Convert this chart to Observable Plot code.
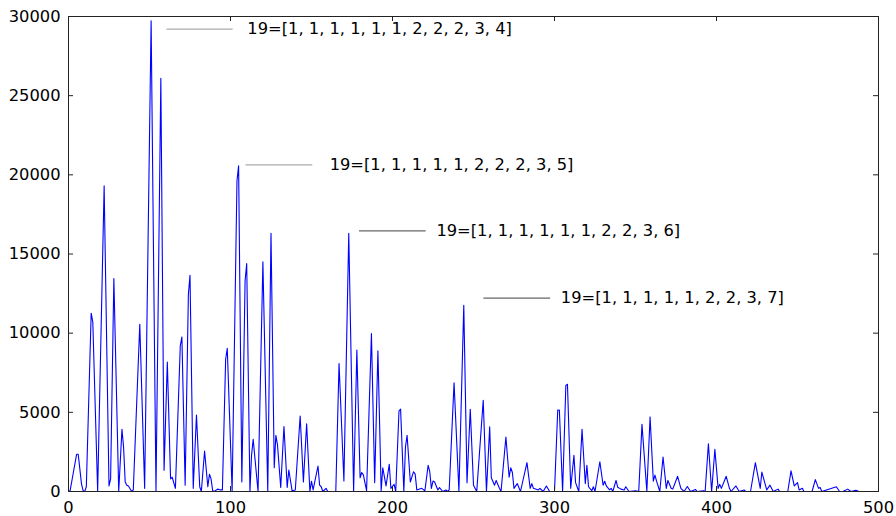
<!DOCTYPE html>
<html><head><meta charset="utf-8">
<script src="https://cdn.jsdelivr.net/npm/d3@7"></script>
<script src="https://cdn.jsdelivr.net/npm/@observablehq/plot@0.6"></script>
<style>html,body{margin:0;padding:0;background:#fff;} #chart svg{display:block}</style>
</head><body><div id="chart"></div>
<script>
// vertices of the curve (x, value)
const xs = [0,1,3,5,6,8,9,10,11,14,15,18,22,25,26,28,31,33,34,35,36,37,39,40,44,47,51,54,57,59,61,63,64,66,69,70,72,74,75,77,79,81,82,84,86,87,88,89,90,92,94,95,97,98,101,104,105,107,109,110,112,113,114,117,120,123,125,127,128,129,131,133,135,136,138,140,143,145,147,149,150,151,154,155,156,157,159,160,165,167,170,173,176,178,180,181,182,184,187,189,191,193,194,196,198,199,201,202,204,205,207,208,209,211,213,214,215,218,220,222,223,224,225,226,228,229,231,233,234,235,238,241,244,246,248,250,252,256,258,260,261,263,264,266,267,270,272,273,274,275,277,279,283,285,286,287,290,291,293,295,297,300,302,303,305,307,308,310,312,313,315,317,319,320,321,323,324,325,328,330,331,332,334,335,336,338,339,341,343,344,346,350,352,354,357,359,361,362,363,365,367,369,370,372,373,376,378,380,382,384,387,388,392,393,395,397,399,401,402,403,406,408,409,412,414,417,418,421,424,427,428,431,433,435,438,439,444,446,448,450,451,453,454,459,461,463,464,465,474,476,478,481,483,486,488,490];
const ys = [0,50,1200,2350,2350,500,50,0,300,11260,10700,0,19300,350,800,13450,0,3930,2800,600,400,350,0,100,10560,200,29730,0,26100,1340,8180,800,900,200,9200,9760,400,12450,13660,200,4830,300,0,2560,300,1090,800,50,0,150,100,100,8350,9050,0,19620,20570,600,13300,14400,0,2300,3300,0,14500,0,16310,1500,3550,2950,250,4100,250,1360,50,100,4770,600,4280,0,650,100,1610,400,300,0,200,0,0,8080,660,16300,0,8940,870,1200,1050,50,9970,560,8880,50,1500,350,1720,200,450,0,5090,5200,0,2800,3550,600,1250,1100,100,200,50,1650,1250,200,660,600,100,250,0,100,0,100,6870,0,11760,560,5190,400,0,5760,0,4080,870,400,700,200,0,3440,900,1500,1200,200,500,0,1820,200,500,200,100,200,0,350,0,0,5150,5150,0,6700,6770,200,2290,560,0,3930,500,1650,300,50,300,0,1880,400,650,350,100,200,0,700,270,150,100,300,0,50,0,4240,0,4710,650,1040,650,0,2180,200,700,200,150,960,200,0,320,0,130,0,50,0,3020,0,2660,200,450,200,960,200,0,350,0,100,0,0,1820,200,1230,100,400,0,150,0,0,1300,350,560,100,200,0,0,750,200,250,0,300,0,0,150,0,70,0,0];

const xTicks = [0, 100, 200, 300, 400, 500];
const yTicks = [0, 5000, 10000, 15000, 20000, 25000, 30000];

// annotations
const annLineX1 = [60.5, 109.3, 179.3, 256.1];
const annLineX2 = [101.3, 150.5, 220.5, 297.3];
const annY = [29200, 20630, 16460, 12210];
const annTextX = [110.4, 161.2, 227.1, 303.9];
const annLabels = [
  "19=[1, 1, 1, 1, 1, 1, 2, 2, 2, 3, 4]",
  "19=[1, 1, 1, 1, 1, 2, 2, 2, 3, 5]",
  "19=[1, 1, 1, 1, 1, 1, 2, 2, 3, 6]",
  "19=[1, 1, 1, 1, 1, 2, 2, 3, 7]"
];

const W = 896, H = 516, mt = 16, mb = 25, ml = 68, mr = 18;
const innerH = H - mt - mb, innerW = W - ml - mr;
const series = xs.map((x, i) => ({x, y: ys[i]}));
const ann = annY.map((y, i) => ({x1: annLineX1[i], x2: annLineX2[i], y, tx: annTextX[i], label: annLabels[i], i}));

const chart = Plot.plot({
  width: W, height: H,
  marginTop: mt, marginBottom: mb, marginLeft: ml, marginRight: mr,
  style: {fontFamily: "'DejaVu Sans', sans-serif", fontSize: "16.3px", color: "#000", background: "#fff"},
  x: {domain: [0, 500]},
  y: {domain: [0, 30000]},
  marks: [
    Plot.line(series, {x: "x", y: "y", stroke: "#0000ff", strokeWidth: 1.1}),
    Plot.link(ann.filter(d => d.i < 2), {x1: "x1", x2: "x2", y1: "y", y2: "y", stroke: "#aaaaaa", strokeWidth: 1.2}),
    Plot.link(ann.filter(d => d.i >= 2), {x1: "x1", x2: "x2", y1: "y", y2: "y", stroke: "#666666", strokeWidth: 1.2}),
    Plot.text(ann, {x: "tx", y: "y", text: "label", textAnchor: "start", fill: "#000", fontSize: 16.3}),
    Plot.tickX(xTicks, {x: d => d, insetTop: innerH - 5, stroke: "#222"}),
    Plot.tickX(xTicks, {x: d => d, insetBottom: innerH - 5, stroke: "#222"}),
    Plot.tickY(yTicks, {y: d => d, insetRight: innerW - 5, stroke: "#222"}),
    Plot.tickY(yTicks, {y: d => d, insetLeft: innerW - 5, stroke: "#222"}),
    Plot.axisX({ticks: xTicks, tickSize: 0, tickPadding: 10, fontSize: 16.3, label: null}),
    Plot.axisY({ticks: yTicks, tickSize: 0, tickPadding: 8, fontSize: 16.3, label: null, tickFormat: d => String(d)}),
    Plot.frame({stroke: "#222"})
  ]
});
document.getElementById("chart").appendChild(chart);
</script>
</body></html>
